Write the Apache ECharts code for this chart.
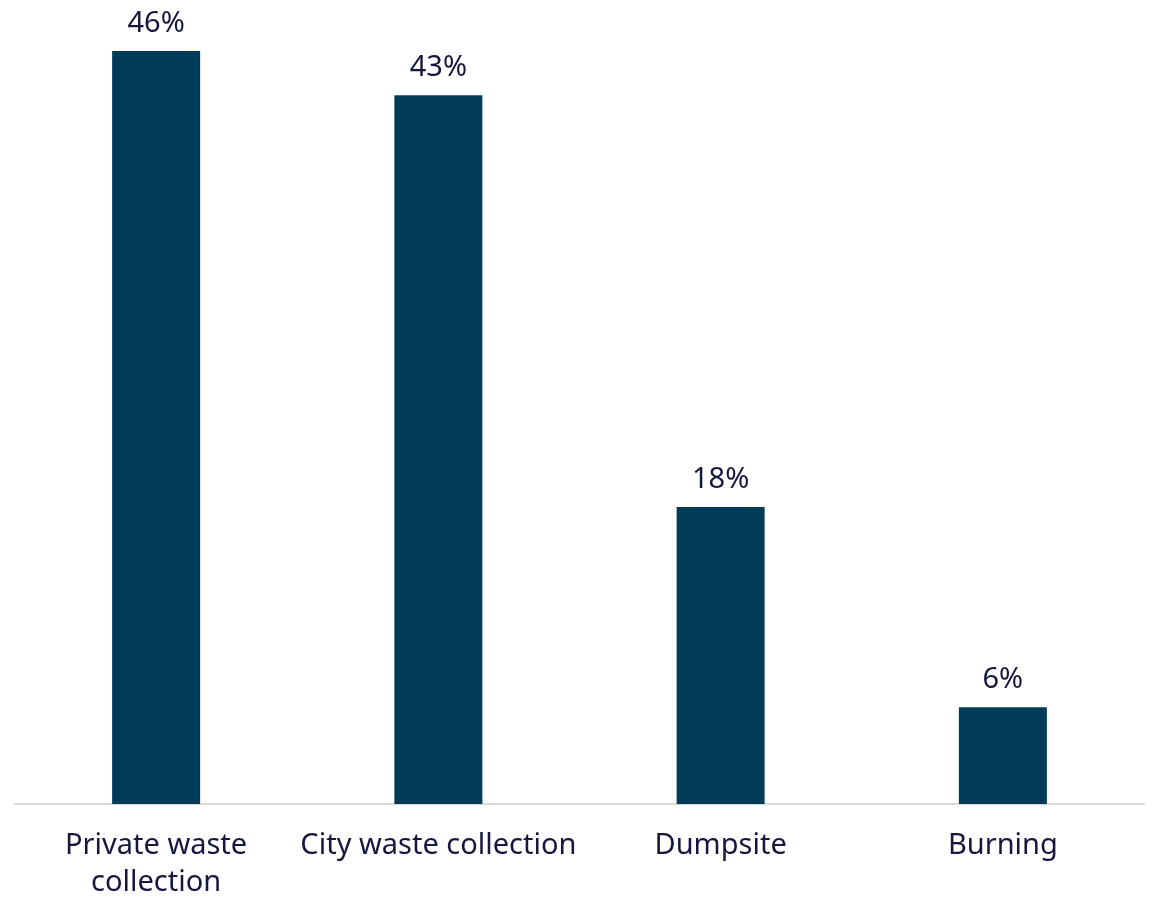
<!DOCTYPE html>
<html><head><meta charset="utf-8">
<script src="https://cdn.jsdelivr.net/npm/echarts@6/dist/echarts.min.js"></script>
<style>html,body{margin:0;padding:0;background:#fff}#c{width:1153px;height:899px}</style>
</head><body><div id="c"></div>
<script>
const categories = ['Private waste\ncollection', 'City waste collection', 'Dumpsite', 'Burning'];
const values = [45.9, 43.2, 18.1, 5.9];

const FONT = '"Noto Sans", "Open Sans", sans-serif';
const chart = echarts.init(document.getElementById('c'), null, {renderer: 'canvas'});
chart.setOption({
  animation: false,
  grid: {left: 15, right: 9, top: 51, bottom: 95, containLabel: false, outerBoundsMode: 'none'},
  xAxis: {
    type: 'category', data: categories,
    axisLine: {lineStyle: {color: '#d9d9d9', width: 2}},
    axisTick: {show: false},
    axisLabel: {color: '#16163f', fontSize: 29, fontFamily: FONT, margin: 23, lineHeight: 37, interval: 0}
  },
  yAxis: {type: 'value', min: 0, max: 45.9, show: false, splitLine: {show: false}},
  series: [{
    type: 'bar', data: values, barWidth: 88,
    itemStyle: {color: '#003c57'},
    label: {show: true, position: 'top', distance: 13, formatter: p => Math.round(p.value) + '%',
      color: '#16163f', fontSize: 29, fontFamily: FONT}
  }]
});
</script></body></html>
